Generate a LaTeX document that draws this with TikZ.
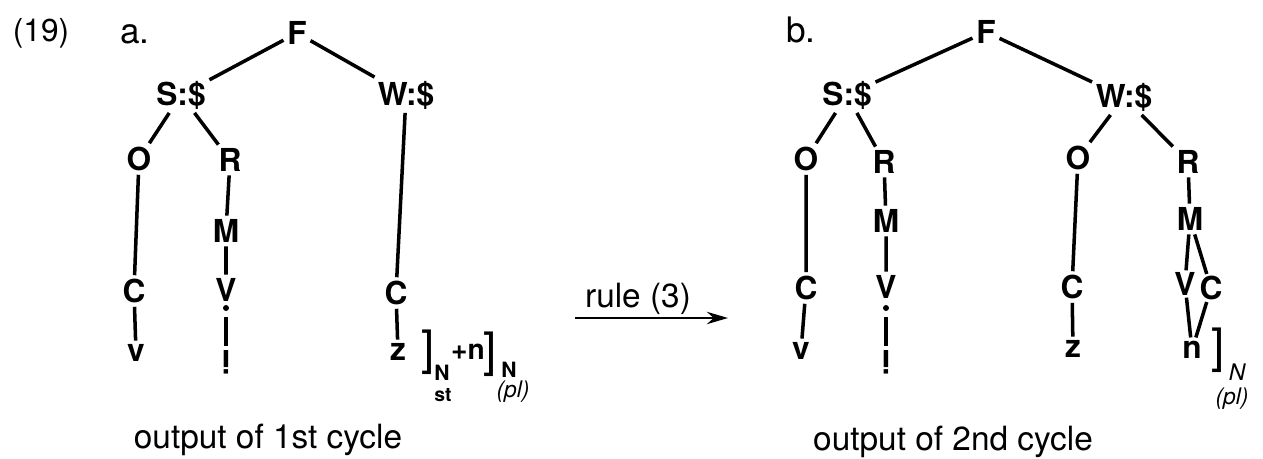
\documentclass[tikz,border=0pt]{standalone}
\usepackage{fontspec}
\setsansfont{TeX Gyre Heros}
\usetikzlibrary{arrows.meta}
\tikzstyle{cat} = [font=\fontsize{18}{21}\selectfont\sffamily\bfseries, inner sep=2pt]
\tikzstyle{lab} = [font=\fontsize{20}{23}\selectfont\sffamily, inner sep=0pt]
\tikzstyle{note} = [font=\fontsize{19}{22}\selectfont\sffamily, inner sep=0pt]
\tikzstyle{sub} = [font=\fontsize{12}{14}\selectfont\sffamily\bfseries, inner sep=0pt]
\tikzstyle{hand} = [font=\fontsize{13}{15}\selectfont\sffamily\itshape, inner sep=0pt]
\tikzstyle{brack} = [font=\fontsize{27}{30}\selectfont\sffamily, inner sep=0pt]
\tikzstyle{branch} = [line width=2pt]
\tikzstyle{arrow} = [line width=1.7pt, -{Stealth[length=12pt, width=7pt]}]

\begin{document}
\begin{tikzpicture}[x=0.02cm, y=-0.02cm]
  \useasboundingbox (0,0) rectangle (1263,459);
  \node (num)[lab, font=\fontsize{18}{21}\selectfont\sffamily] at (41,33) {(19)};
  % tree a
  \node (taga)[lab] at (135,34) {a.};
  \node (Fa)[cat] at (297,33) {F};
  \node (Sa)[cat] at (181,95) {S:\$};
  \node (Wa)[cat] at (406,95) {W:\$};
  \node (Oa)[cat] at (139,159) {O};
  \node (Ra)[cat] at (230,160) {R};
  \node (Ca)[cat] at (134,291) {C};
  \node (va)[cat] at (136,353) {v};
  \node (Ma)[cat] at (226,231) {M};
  \node (Va)[cat] at (226,290) {V};
  \coordinate (dota) at (226,308);
  \node (ia)[cat, rotate=180] at (226,362) {i};
  \node (Cwa)[cat] at (396,293) {C};
  \node (za)[cat] at (398,352) {z};
  \node (bra1)[brack] at (428,352) {]};
  \node (Na1)[sub] at (442,373) {N};
  \node (sta)[sub, font=\fontsize{11}{13}\selectfont\sffamily\bfseries] at (443,395) {st};
  \node (plusn)[cat, inner sep=0pt, font=\fontsize{16}{19}\selectfont\sffamily\bfseries] at (468,352) {+n};
  \node (bra2)[brack] at (490,354) {]};
  \node (Na2)[sub] at (509,370) {N};
  \node (pla)[hand] at (513,392) {(pl)};
  \draw [branch] (Fa)--(Sa);
  \draw [branch] (Fa)--(Wa);
  \draw [branch] (Sa)--(Oa);
  \draw [branch] (Sa)--(Ra);
  \draw [branch] (Oa)--(Ca)--(va);
  \draw [branch] (Ra)--(Ma)--(Va);
  \fill (dota) circle (3);
  \draw [branch, shorten <=5pt] (dota)--(ia);
  \draw [branch] (Wa)--(Cwa)--(za);
  \node (capa)[note] at (268,440) {output of 1st cycle};
  % rule arrow
  \node (rule)[note] at (638,299) {rule (3)};
  \coordinate (arrs) at (575,318);
  \coordinate (arre) at (728,318);
  \draw [arrow] (arrs)--(arre);
  % tree b
  \node (tagb)[lab] at (801,30) {b.};
  \node (Fb)[cat] at (986,32) {F};
  \node (Sb)[cat] at (847,95) {S:\$};
  \node (Wb)[cat] at (1124,97) {W:\$};
  \node (Ob)[cat] at (806,159) {O};
  \node (Rb)[cat] at (884,162) {R};
  \node (Cb)[cat] at (806,288) {C};
  \node (vb)[cat] at (801,351) {v};
  \node (Mb)[cat] at (886,221) {M};
  \node (Vb)[cat] at (886,287) {V};
  \coordinate (dotb) at (886,308);
  \node (ib)[cat, rotate=180] at (886,362) {i};
  \node (Owb)[cat] at (1078,158) {O};
  \node (Rwb)[cat] at (1188,162) {R};
  \node (Cwb)[cat] at (1072,287) {C};
  \node (zb)[cat] at (1073,349) {z};
  \node (Mwb)[cat] at (1190,219) {M};
  \node (Vwb)[cat, inner sep=1pt] at (1185,284) {V};
  \node (Cnb)[cat, inner sep=1pt] at (1211,288) {C};
  \node (nb)[cat] at (1192,350) {n};
  \node (brb)[brack] at (1218,350) {]};
  \node (Nb)[hand] at (1237,372) {N};
  \node (plb)[hand] at (1232,399) {(pl)};
  \draw [branch] (Fb)--(Sb);
  \draw [branch] (Fb)--(Wb);
  \draw [branch] (Sb)--(Ob);
  \draw [branch] (Sb)--(Rb);
  \draw [branch] (Ob)--(Cb)--(vb);
  \draw [branch] (Rb)--(Mb)--(Vb);
  \fill (dotb) circle (3);
  \draw [branch, shorten <=5pt] (dotb)--(ib);
  \draw [branch] (Wb)--(Owb);
  \draw [branch] (Wb)--(Rwb);
  \draw [branch] (Owb)--(Cwb)--(zb);
  \draw [branch] (Rwb)--(Mwb);
  \draw [branch] (Mwb)--(Vwb);
  \draw [branch] (Mwb)--(Cnb);
  \draw [branch] (Vwb)--(nb);
  \draw [branch] (Cnb)--(nb);
  \node (capb)[note] at (953,442) {output of 2nd cycle};
\end{tikzpicture}
\end{document}
